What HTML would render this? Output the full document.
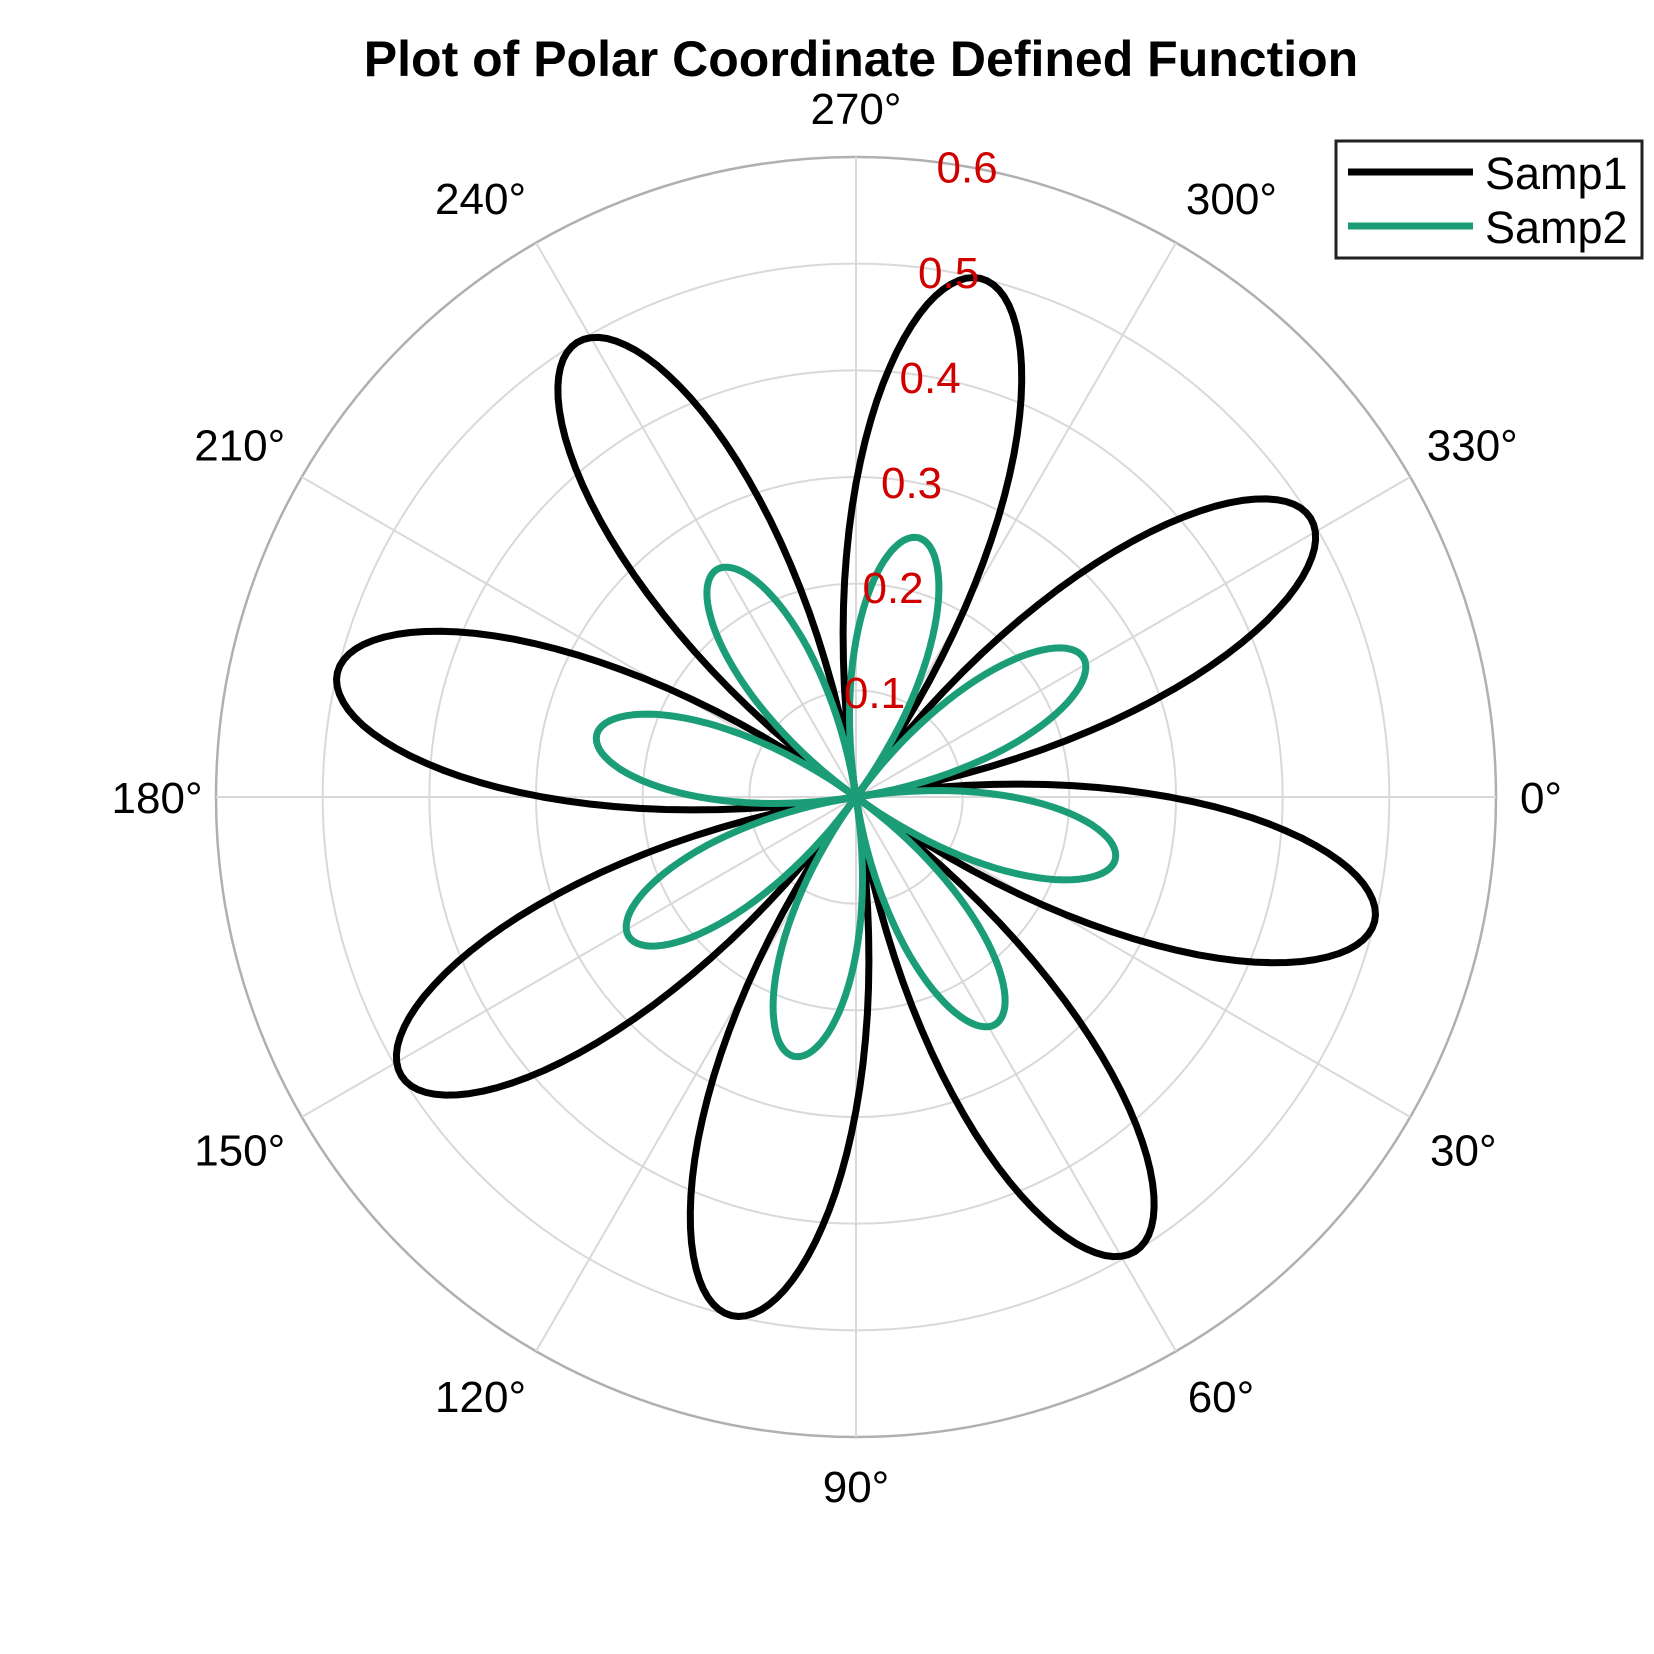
<!DOCTYPE html>
<html><head><meta charset="utf-8"><style>
html,body{margin:0;padding:0;background:#fff;width:1654px;height:1654px;overflow:hidden}
svg text{font-family:"Liberation Sans",Arial,sans-serif}
</style></head><body>
<svg id="chart" width="1654" height="1654" viewBox="0 0 1654 1654" xmlns="http://www.w3.org/2000/svg">
<rect width="1654" height="1654" fill="#fff"/>
<text x="861" y="76" text-anchor="middle" font-size="50" font-weight="bold">Plot of Polar Coordinate Defined Function</text>
<g id="grid"></g>
<g id="series"></g>
<g id="labels"></g>
<g>
<rect x="1336" y="141" width="306" height="117" fill="#fff" stroke="#222" stroke-width="3"/>
<line x1="1348" y1="172" x2="1473" y2="172" stroke="#000" stroke-width="7"/>
<text x="1485" y="189" font-size="45">Samp1</text>
<line x1="1348" y1="226" x2="1473" y2="226" stroke="#1b9e77" stroke-width="7"/>
<text x="1485" y="243" font-size="45">Samp2</text>
</g>
</svg>
<script>
const rTicks=[0.1,0.2,0.3,0.4,0.5,0.6];
const thetaTicks=[0,30,60,90,120,150,180,210,240,270,300,330];
const samp1PetalAngles=[13.5,58.5,103.5,148.5,193.5,238.5,283.5,328.5];
const samp1PetalRadii=[0.5,0.5,0.5,0.5,0.5,0.5,0.5,0.5];
const samp2PetalAngles=[13.5,58.5,103.5,148.5,193.5,238.5,283.5,328.5];
const samp2PetalRadii=[0.25,0.25,0.25,0.25,0.25,0.25,0.25,0.25];
const cx=856,cy=797,R=640,rMax=0.6;
const NS="http://www.w3.org/2000/svg";
function rs(v){return v/rMax*R;}
function px(deg,v){const a=deg*Math.PI/180;return [cx+rs(v)*Math.cos(a),cy+rs(v)*Math.sin(a)];}
function mk(t,attrs,parent){const e=document.createElementNS(NS,t);for(const k in attrs)e.setAttribute(k,attrs[k]);parent.appendChild(e);return e;}
const grid=document.getElementById('grid'),labels=document.getElementById('labels'),series=document.getElementById('series');
rTicks.forEach((v,i)=>{
 const last=i===rTicks.length-1;
 const c=mk('circle',{cx:cx,cy:cy,r:rs(v),fill:'none',stroke:last?'#b0b0b0':'#d9d9d9','stroke-width':last?2.5:2},grid);
 
 
 const p=px(280,v);
 const t=mk('text',{x:p[0],y:p[1]+16,'text-anchor':'middle','font-size':44,fill:'#d00000'},labels);
 t.textContent=v.toFixed(1);
 
 
});
thetaTicks.forEach(d=>{
 const p=px(d,rMax);
 const l=mk('line',{x1:cx,y1:cy,x2:p[0],y2:p[1],stroke:'#d9d9d9','stroke-width':2},grid);
 
 
 const t=mk('text',{x:0,y:0,'text-anchor':'middle','font-size':44,fill:'#000'},labels);
 t.textContent=d+'°';
 
 
 const w=t.getComputedTextLength?t.getComputedTextLength():80;
 const a=d*Math.PI/180,c=Math.cos(a),s=Math.sin(a);
 const sx=Math.abs(c)<0.01?0:Math.sign(c),sy=Math.abs(s)<0.01?0:Math.sign(s);
 const f=0.57+0.33*Math.abs(s);
 t.setAttribute('x',cx+c*(R+33)+sx*w/2*f);
 t.setAttribute('y',cy+s*(R+33)+sy*16+16);
});
function drawSeries(angles,radii,color,name){
 let d='';
 angles.forEach((a0,i)=>{
  for(let k=0;k<=60;k++){
   const u=-22.5+45*k/60;
   const r=radii[i]*Math.cos(4*u*Math.PI/180);
   const p=px(a0+u,Math.max(0,r));
   d+=(k===0&&i===0?'M':'L')+p[0].toFixed(1)+','+p[1].toFixed(1);
  }
 });
 d+='Z';
 const e=mk('path',{d:d,fill:'none',stroke:color,'stroke-width':7,'stroke-linejoin':'round'},series);
 
 
}
drawSeries(samp1PetalAngles,samp1PetalRadii,'#000','series-samp1');
drawSeries(samp2PetalAngles,samp2PetalRadii,'#1b9e77','series-samp2');
</script>
</body></html>
